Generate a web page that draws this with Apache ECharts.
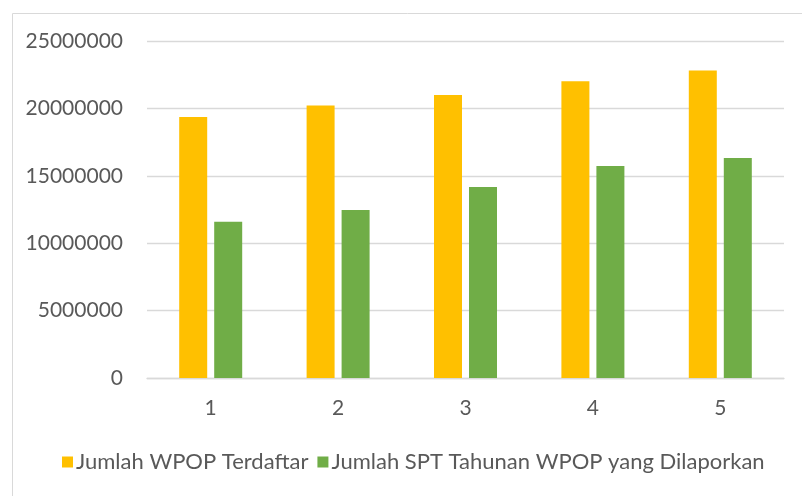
<!DOCTYPE html>
<html>
<head>
<meta charset="utf-8">
<script src="https://cdn.jsdelivr.net/npm/echarts@6/dist/echarts.min.js"></script>
<style>
    html, body {margin: 0; padding: 0; background: #fff;}
    #chart {width: 802px; height: 496px;}
</style>
</head>
<body>
<div id="chart"></div>
<script>
"use strict";
var categories = ['1', '2', '3', '4', '5'];
var terdaftar = [19360000, 20220000, 20990000, 22020000, 22810000];
var dilaporkan = [11600000, 12470000, 14170000, 15730000, 16320000];
var seriesNames = ['Jumlah WPOP Terdaftar', 'Jumlah SPT Tahunan WPOP yang Dilaporkan'];

var textColor = '#595959';
var fontName = 'Lato';
var chart = echarts.init(document.getElementById('chart'));

var option = {
    animation: false,
    color: ['#FFC000', '#70AD47'],
    graphic: [{
        type: 'rect', left: 10, top: 11,
        shape: {width: 820, height: 520},
        style: {fill: 'none', stroke: '#d9d9d9', lineWidth: 1}
    }],
    grid: {left: 147, right: 18, top: 41, bottom: 118},
    legend: {
        bottom: 18, left: 57, itemWidth: 11, itemHeight: 11, itemGap: 9,
        icon: 'rect',
        textStyle: {color: textColor, fontSize: 22, fontFamily: fontName, padding: [0, 0, 0, -2]},
        data: seriesNames
    },
    xAxis: {
        type: 'category', data: categories,
        axisLine: {lineStyle: {color: '#d9d9d9', width: 1.3}},
        axisTick: {show: false},
        axisLabel: {color: textColor, fontSize: 21, fontFamily: fontName, margin: 20}
    },
    yAxis: {
        type: 'value', min: 0, max: 25000000, interval: 5000000,
        axisLine: {show: false}, axisTick: {show: false},
        axisLabel: {
            color: textColor, fontSize: 21, fontFamily: fontName, margin: 24,
            formatter: function (v) { return String(v); }
        },
        splitLine: {lineStyle: {color: '#d9d9d9', width: 1.3}}
    },
    series: [
        {name: seriesNames[0], type: 'bar', data: terdaftar, barWidth: 28, barGap: '25%'},
        {name: seriesNames[1], type: 'bar', data: dilaporkan, barWidth: 28, barGap: '25%'}
    ]
};
chart.setOption(option);
</script>
</body>
</html>
